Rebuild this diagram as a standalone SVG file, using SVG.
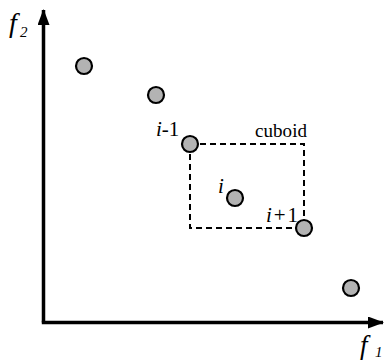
<svg xmlns="http://www.w3.org/2000/svg" width="387" height="361" viewBox="0 0 387 361">
<style>
.pt{fill:#b3b3b3;stroke:#000;stroke-width:2.2}
.ax{stroke:#000;stroke-width:3.5;fill:none}
.t{font-family:"Liberation Serif","Times New Roman",serif;fill:#000}
.it{font-style:italic}
.box{fill:none;stroke:#000;stroke-width:2;stroke-dasharray:6,4}
</style>
<defs>
<marker id="ah" viewBox="0 0 16 12" refX="15" refY="6" markerWidth="16" markerHeight="12" markerUnits="userSpaceOnUse" orient="auto">
<path d="M0,0 L16,6 L0,12 Z" fill="#000"/>
</marker>
</defs>
<g id="connectors">
<path class="ax" d="M43.5,322.5 L43.5,10" marker-end="url(#ah)"/>
<path class="ax" d="M41.8,322.5 L383,322.5" marker-end="url(#ah)"/>
<rect class="box" x="190" y="144" width="114" height="84"/>
</g>
<g id="axis-f2"><text class="t it" x="9" y="32" font-size="28">f</text><text class="t it" x="20" y="37" font-size="15">2</text></g>
<g id="axis-f1"><text class="t it" x="360" y="354" font-size="27">f</text><text class="t it" x="375" y="357" font-size="15">1</text></g>
<g id="p1"><circle class="pt" cx="84" cy="66" r="8"/></g>
<g id="p2"><circle class="pt" cx="156" cy="95" r="8"/></g>
<g id="p-im1"><circle class="pt" cx="190" cy="144" r="8"/><text class="t" x="156" y="136" font-size="21"><tspan class="it">i</tspan>-1</text></g>
<g id="p-i"><circle class="pt" cx="235" cy="198" r="8"/><text class="t it" x="218" y="193" font-size="21">i</text></g>
<g id="p-ip1"><circle class="pt" cx="304" cy="228" r="8"/><text class="t" x="266" y="222" font-size="21" textLength="32"><tspan class="it">i</tspan>+1</text></g>
<g id="p3"><circle class="pt" cx="351" cy="288" r="8"/></g>
<g id="cuboid-label"><text class="t" x="255" y="137" font-size="19" textLength="52">cuboid</text></g>
</svg>
